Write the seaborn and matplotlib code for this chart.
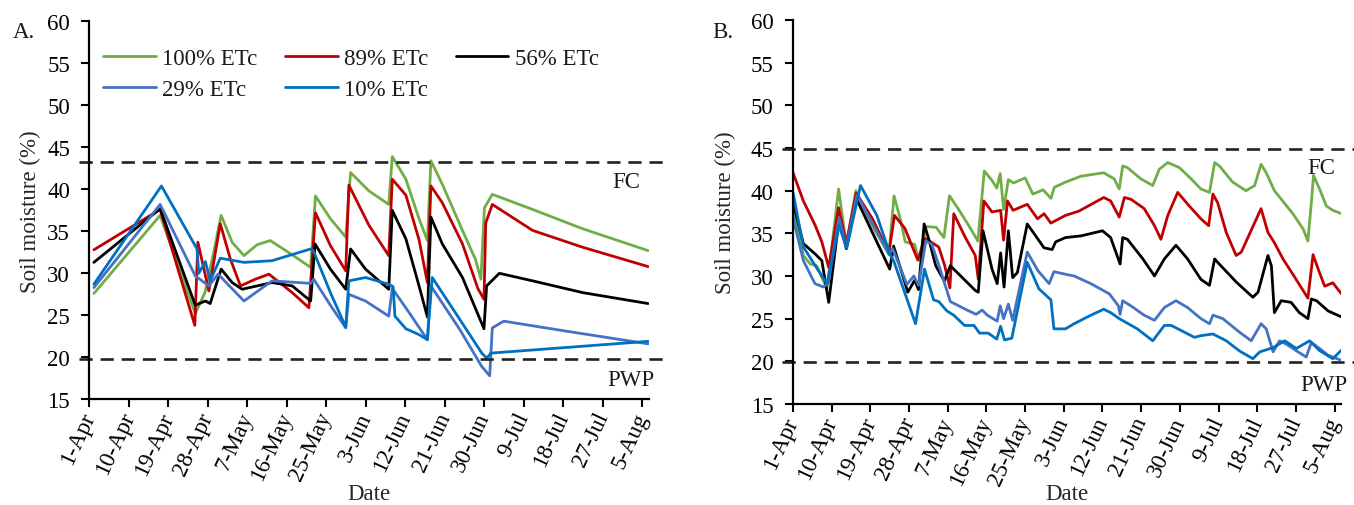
import matplotlib
matplotlib.use("Agg")
import matplotlib.pyplot as plt
from matplotlib.lines import Line2D
import numpy as np
import pandas as pd
import seaborn as sns

# ---------------- data (days after 1-Apr, soil moisture %) ----------------
date_labels = ["1-Apr", "10-Apr", "19-Apr", "28-Apr", "7-May", "16-May", "25-May",
               "3-Jun", "12-Jun", "21-Jun", "30-Jun", "9-Jul", "18-Jul", "27-Jul", "5-Aug"]
treatments = ["100% ETc", "89% ETc", "56% ETc", "29% ETc", "10% ETc"]
colors = ["#70AD47", "#C00000", "#000000", "#4472C4", "#0070C0"]

# panel A
a_day_100 = [1, 16.1, 24.1, 26.3, 28.3, 30.0, 32.5, 35.2, 38.2, 41.2, 46.2, 50.4, 51.5, 54.9, 58.4,
             59.5, 63.7, 68.2, 69.0, 72.1, 75.1, 77.0, 77.8, 80.4, 85.0, 88.0, 89.2, 90.0, 91.8,
             101.0, 112.4, 127.3]
a_sm_100 = [27.6, 36.9, 25.2, 27.7, 32.5, 36.9, 33.7, 32.1, 33.4, 33.9, 32.2, 30.7, 39.2, 36.5, 34.3,
            42.0, 39.8, 38.2, 43.9, 41.2, 36.5, 33.9, 43.4, 40.6, 35.1, 31.6, 29.3, 37.8, 39.4,
            37.6, 35.3, 32.7]
a_day_89 = [1, 16.1, 24.0, 24.7, 27.2, 29.8, 32.1, 34.4, 37.8, 40.9, 46.2, 50.0, 51.5, 54.9, 58.4,
            59.1, 63.7, 68.2, 69.0, 72.1, 75.1, 77.0, 77.8, 80.4, 85.0, 88.5, 89.9, 90.3, 91.8,
            101.0, 112.4, 127.3]
a_sm_89 = [32.8, 37.6, 23.8, 33.7, 27.9, 35.9, 31.7, 28.5, 29.3, 29.9, 27.7, 25.9, 37.2, 33.3, 30.3,
           40.5, 35.7, 32.1, 41.2, 39.3, 34.0, 28.9, 40.4, 38.4, 33.5, 28.2, 26.9, 36.0, 38.2,
           35.1, 33.1, 30.8]
a_day_56 = [1, 16.1, 24.1, 26.4, 27.5, 30.0, 32.5, 34.8, 41.6, 46.2, 50.4, 51.4, 54.9, 58.4, 59.5,
            62.9, 68.2, 69.0, 72.1, 75.1, 77.0, 77.8, 80.4, 85.0, 89.9, 90.5, 93.4, 101.0, 112.4, 127.3]
a_sm_56 = [31.3, 37.7, 26.2, 26.7, 26.4, 30.5, 28.9, 28.1, 28.9, 28.5, 26.7, 33.5, 30.5, 28.1, 32.9,
           30.5, 28.1, 37.5, 34.1, 28.5, 24.8, 36.7, 33.5, 29.5, 23.4, 28.5, 30.0, 29.1, 27.7, 26.4]
a_day_29 = [1, 16.1, 24.1, 27.2, 29.3, 35.2, 41.6, 50.4, 51.1, 54.9, 58.4, 59.1, 62.9, 68.2, 69.0,
            73.0, 77.0, 77.8, 84.4, 89.4, 91.2, 91.8, 94.4, 110.0, 127.3]
a_sm_29 = [28.3, 38.2, 29.7, 28.5, 29.9, 26.7, 29.1, 28.8, 29.3, 26.2, 23.5, 27.5, 26.7, 24.9, 28.2,
           25.2, 22.1, 28.5, 23.3, 18.9, 17.8, 23.5, 24.3, 23.0, 21.6]
a_day_10 = [1, 16.4, 24.5, 24.9, 26.4, 27.5, 29.8, 35.2, 41.6, 50.4, 51.0, 54.9, 58.4, 59.1, 62.9,
            68.2, 69.2, 69.6, 72.1, 75.1, 77.0, 78.1, 84.4, 89.4, 90.5, 91.5, 127.3]
a_sm_10 = [28.7, 40.4, 32.9, 30.0, 31.4, 29.1, 31.8, 31.3, 31.5, 32.9, 32.7, 27.7, 23.6, 29.1, 29.5,
           28.7, 28.4, 24.9, 23.4, 22.7, 22.1, 29.5, 24.5, 20.5, 19.9, 20.5, 21.9]

# panel B
b_day_100 = [0, 2.4, 4.0, 5.5, 7.9, 10.6, 12.4, 14.6, 18.0, 22.3, 23.5, 25.0, 26.1, 28.3, 29.2,
             31.0, 33.3, 35.1, 36.4, 38.4, 40.9, 43.0, 44.5, 46.3, 47.4, 48.2, 49.0, 50.1, 51.3,
             54.0, 55.8, 58.2, 60.0, 60.8, 63.4, 67.0, 72.3, 74.7, 75.9, 76.7, 77.8, 80.9, 83.7,
             85.2, 87.2, 89.9, 92.6, 94.9, 96.9, 98.1, 99.2, 102.3, 105.4, 107.4, 108.9, 110.1,
             112.0, 116.3, 118.7, 119.8, 120.6, 121.1, 122.5, 124.1, 125.6, 127.6]
b_sm_100 = [38.0, 32.4, 31.4, 31.2, 28.5, 40.2, 33.6, 40.0, 36.3, 32.5, 39.4, 36.6, 34.0, 33.7, 31.8,
            35.8, 35.7, 34.5, 39.4, 37.9, 35.9, 34.1, 42.3, 41.2, 40.3, 42.0, 37.8, 41.3, 40.9,
            41.5, 39.6, 40.1, 39.1, 40.4, 41.0, 41.7, 42.1, 41.4, 40.2, 42.9, 42.7, 41.4, 40.6,
            42.5, 43.3, 42.7, 41.4, 40.2, 39.8, 43.3, 42.9, 41.0, 40.0, 40.6, 43.1, 42.1,
            40.0, 37.3, 35.5, 34.1, 38.6, 41.8, 40.2, 38.2, 37.7, 37.3]
b_day_89 = [0, 2.4, 5.1, 6.7, 8.3, 10.6, 12.4, 14.7, 18.5, 22.3, 23.6, 26.0, 29.0, 30.8, 33.9,
            35.3, 36.5, 37.4, 40.1, 42.4, 43.1, 44.4, 46.3, 48.3, 49.0, 49.9, 51.2, 54.5, 56.9,
            58.4, 60.0, 63.4, 66.5, 72.3, 73.9, 75.9, 77.1, 78.6, 81.7, 84.1, 85.6, 87.2, 89.5,
            92.2, 94.9, 96.7, 97.7, 98.8, 100.8, 103.1, 104.3, 108.9, 110.5, 112.0, 114.0, 116.3,
            119.8, 121.0, 122.2, 123.7, 125.6, 127.6]
b_sm_89 = [42.1, 38.8, 36.0, 34.0, 31.0, 38.0, 33.8, 39.7, 36.7, 32.7, 37.1, 35.6, 31.9, 34.4, 33.4,
           31.2, 28.6, 37.3, 34.5, 32.4, 29.6, 38.8, 37.5, 37.7, 34.2, 38.8, 37.7, 38.4, 36.7,
           37.3, 36.2, 37.1, 37.6, 39.2, 38.8, 36.9, 39.2, 39.0, 37.9, 35.9, 34.3, 37.1, 39.8,
           38.2, 36.7, 35.9, 39.6, 38.6, 35.1, 32.4, 32.8, 37.9, 35.1, 33.9, 32.0, 30.2,
           27.4, 32.5, 30.8, 28.8, 29.2, 27.9]
b_day_56 = [0, 2.4, 5.1, 6.7, 8.3, 10.7, 12.4, 14.8, 22.5, 23.4, 26.7, 28.3, 29.2, 30.5, 31.6,
            33.2, 35.2, 36.6, 42.4, 43.1, 44.2, 46.3, 47.5, 48.3, 49.1, 50.1, 51.1, 52.2, 54.5,
            58.4, 60.3, 61.1, 63.4, 67.0, 72.0, 73.9, 76.1, 76.7, 77.8, 81.4, 84.1, 86.4, 89.1,
            91.8, 94.9, 96.9, 98.1, 98.8, 103.1, 107.0, 108.2, 110.5, 111.3, 112.0, 113.6, 115.9,
            117.8, 119.8, 120.6, 121.8, 124.5, 127.6]
b_sm_56 = [38.6, 33.8, 32.6, 31.8, 26.9, 36.6, 33.2, 39.0, 30.8, 33.5, 28.1, 29.5, 28.4, 36.1, 34.3,
           31.2, 29.4, 31.2, 28.3, 28.1, 35.3, 30.8, 29.1, 32.7, 28.7, 35.3, 29.8, 30.4, 36.1,
           33.3, 33.1, 34.0, 34.5, 34.7, 35.3, 34.5, 31.4, 34.5, 34.3, 32.0, 30.0, 32.0, 33.6,
           32.0, 29.6, 28.9, 32.0, 31.6, 29.3, 27.5, 28.1, 32.4, 31.2, 25.7, 27.1, 26.9,
           25.7, 25.0, 27.3, 27.1, 25.9, 25.2]
b_day_29 = [0, 2.4, 5.1, 7.1, 8.2, 10.7, 12.4, 14.9, 22.4, 23.2, 26.5, 28.1, 29.2, 30.9, 32.3,
            34.1, 36.6, 40.1, 42.6, 44.0, 45.2, 47.5, 48.2, 49.0, 50.1, 51.1, 54.5, 57.0, 59.6,
            60.7, 63.4, 65.4, 69.3, 73.6, 75.7, 76.1, 76.7, 78.6, 81.7, 84.1, 86.4, 89.1, 91.8,
            94.9, 96.9, 97.7, 100.0, 103.9, 106.6, 108.9, 110.1, 111.7, 113.2, 114.8, 117.5,
            119.4, 120.6, 122.5, 124.5, 127.6]
b_sm_29 = [36.8, 31.8, 29.1, 28.7, 29.2, 36.8, 33.4, 39.5, 32.5, 33.2, 29.0, 30.0, 28.9, 34.1, 33.7,
           31.0, 27.0, 26.1, 25.5, 26.0, 25.4, 24.7, 26.5, 25.0, 26.7, 24.8, 32.8, 30.6, 29.1,
           30.5, 30.2, 30.0, 29.1, 27.9, 26.5, 25.5, 27.1, 26.5, 25.4, 24.8, 26.3, 27.1, 26.3,
           25.0, 24.4, 25.4, 25.0, 23.4, 22.4, 24.4, 23.8, 21.1, 22.4, 22.0, 21.1,
           20.5, 22.2, 21.5, 20.7, 20.1]
b_day_10 = [0, 2.4, 5.3, 7.9, 10.7, 12.5, 15.7, 19.5, 22.6, 23.4, 28.5, 30.6, 32.7, 33.9, 35.8,
            37.4, 39.9, 42.1, 43.4, 45.4, 47.4, 48.3, 49.2, 50.9, 54.5, 57.2, 60.0, 60.7, 63.4,
            65.4, 69.3, 72.3, 73.9, 75.9, 80.1, 83.7, 86.4, 88.0, 91.1, 93.4, 94.9, 97.7, 100.8,
            103.9, 107.0, 108.6, 111.7, 114.4, 117.1, 120.2, 122.5, 125.6, 127.6]
b_sm_10 = [39.8, 33.4, 31.1, 29.1, 35.9, 33.3, 40.6, 37.1, 32.5, 31.8, 24.4, 30.8, 27.2, 27.0, 25.9,
           25.4, 24.2, 24.2, 23.3, 23.3, 22.6, 24.1, 22.5, 22.7, 31.6, 28.5, 27.2, 23.8, 23.8,
           24.4, 25.4, 26.1, 25.7, 25.0, 23.8, 22.4, 24.2, 24.2, 23.4, 22.8, 23.0, 23.2, 22.4,
           21.2, 20.3, 21.1, 21.6, 22.4, 21.5, 22.4, 21.25, 20.3, 21.3]

fc_a, pwp_a = 43.3, 19.75
fc_b, pwp_b = 44.85, 19.95


def long_df(days, vals):
    parts = [pd.DataFrame({"day": d, "sm": v, "trt": t}) for d, v, t in zip(days, vals, treatments)]
    return pd.concat(parts, ignore_index=True)


df_a = long_df([a_day_100, a_day_89, a_day_56, a_day_29, a_day_10],
               [a_sm_100, a_sm_89, a_sm_56, a_sm_29, a_sm_10])
df_b = long_df([b_day_100, b_day_89, b_day_56, b_day_29, b_day_10],
               [b_sm_100, b_sm_89, b_sm_56, b_sm_29, b_sm_10])

# ---------------- figure ----------------
FS = 16.5
sns.set_theme(style="ticks")
plt.rcParams["font.family"] = ["Liberation Serif", "DejaVu Serif"]
plt.rcParams["font.size"] = FS
plt.rcParams["axes.edgecolor"] = "black"
plt.rcParams["xtick.color"] = "black"
plt.rcParams["ytick.color"] = "black"
plt.rcParams["text.color"] = "#1a1a1a"

palette = dict(zip(treatments, colors))

fig = plt.figure(figsize=(13.54, 5.06), dpi=100)
axA = fig.add_axes([0.0661, 0.2089, 0.4132, 0.7470])
axB = fig.add_axes([0.5857, 0.1998, 0.4047, 0.7585])

for ax, df, fc, pwp, ylab_x, xlab_y in [(axA, df_a, fc_a, pwp_a, -0.087, -0.221),
                                         (axB, df_b, fc_b, pwp_b, -0.104, -0.206)]:
    sns.lineplot(data=df, x="day", y="sm", hue="trt", hue_order=treatments, palette=palette,
                 sort=False, estimator=None, lw=2.0, legend=False, ax=ax)
    for lvl in (fc, pwp):
        ax.plot([-2.5, 131], [lvl, lvl], color="#222222", lw=1.9, ls=(0, (5, 3)), clip_on=False)
    ax.set_xlim(0, 127.5)
    ax.set_ylim(15, 60)
    ax.set_yticks(range(15, 61, 5))
    ax.set_xticks(range(0, 127, 9))
    ax.set_xticklabels(date_labels, rotation=65, ha="right", va="center", rotation_mode="anchor")
    ax.tick_params(axis="both", labelsize=FS, direction="out", length=6, width=1.5)
    ax.tick_params(axis="y", pad=8)
    ax.tick_params(axis="x", pad=4)
    for s in ("top", "right"):
        ax.spines[s].set_visible(False)
    for s in ("left", "bottom"):
        ax.spines[s].set_linewidth(1.6)
    ax.set_xlabel("Date", fontsize=FS)
    ax.set_ylabel("Soil moisture (%)", fontsize=FS)
    ax.xaxis.set_label_coords(0.5, xlab_y)
    ax.yaxis.set_label_coords(ylab_x, 0.5)

axA.text(122.3, 40.95, "FC", ha="center", va="center", fontsize=FS)
axA.text(123.4, 17.3, "PWP", ha="center", va="center", fontsize=FS)
axB.text(123.0, 42.75, "FC", ha="center", va="center", fontsize=FS)
axB.text(123.4, 17.3, "PWP", ha="center", va="center", fontsize=FS)

fig.text(12.7 / 1354, 1 - 32 / 506, "A.", ha="left", va="center", fontsize=FS)
fig.text(712 / 1354, 1 - 32 / 506, "B.", ha="left", va="center", fontsize=FS)

# legend: column-major order so rows read 100/89/56 then 29/10
order = [0, 3, 1, 4, 2]
handles = [Line2D([], [], color=colors[i], lw=2.0) for i in order]
labels = [treatments[i] for i in order]
axA.legend(handles, labels, ncol=3, loc="upper left", bbox_to_anchor=(0.024, 0.93),
           frameon=False, handlelength=2.3, handletextpad=0.28, columnspacing=1.2,
           labelspacing=0.45, borderaxespad=0, borderpad=0, fontsize=FS)

fig.savefig("out.png", dpi=100)
